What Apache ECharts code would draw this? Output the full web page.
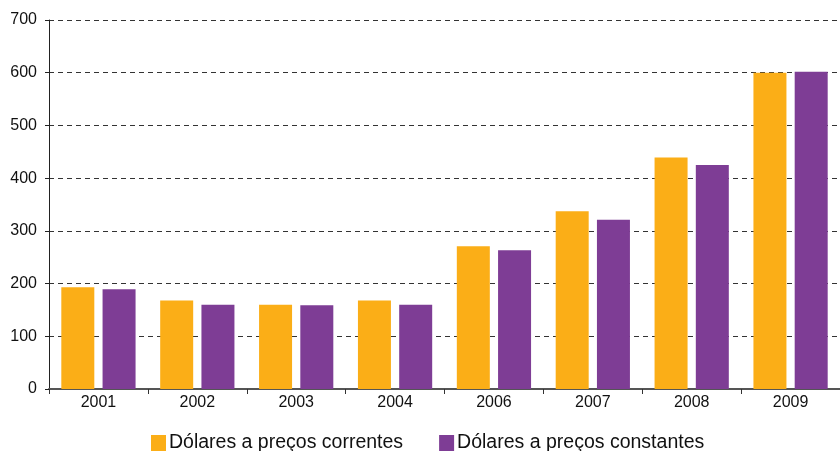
<!DOCTYPE html>
<html>
<head>
<meta charset="UTF-8">
<title>index.html</title>
<style type="text/css">
body { margin: 0; background: #fff; }
#main { width: 840px; height: 451px; }
</style>
</head>
<body>
<div id="main"></div>
<script src="https://cdn.jsdelivr.net/npm/echarts@6/dist/echarts.min.js"></script>
<script>
  var anos = ['2001', '2002', '2003', '2004', '2006', '2007', '2008', '2009'];
  var correntes = [193, 168, 160, 168, 271, 337, 439, 600];
  var constantes = [189, 160, 159, 160, 263, 321, 425, 602];
  var yTicks = [0, 700, 100];

  var myChart = echarts.init(document.getElementById('main'));
  var option = {
    animation: false,
    textStyle: { fontFamily: 'Liberation Sans, Arial, sans-serif' },
    color: ['#FBAE17', '#7E3D95'],
    grid: { left: 49, right: 0, top: 20, bottom: 62 },
    legend: {
      bottom: -7,
      left: 146,
      itemWidth: 15,
      itemHeight: 16,
      itemGap: 36,
      icon: 'rect',
      textStyle: { fontSize: 19.5, color: '#111', padding: [0, 0, 0, -2] },
      data: ['Dólares a preços correntes', 'Dólares a preços constantes']
    },
    xAxis: [{
      type: 'category',
      data: anos,
      axisLine: { lineStyle: { color: '#555', width: 2 } },
      axisTick: { show: true, length: 5, lineStyle: { color: '#333' } },
      axisLabel: { fontSize: 16, color: '#111', margin: 6 }
    }],
    yAxis: [{
      type: 'value',
      min: yTicks[0],
      max: yTicks[1],
      interval: yTicks[2],
      axisLine: { show: true, lineStyle: { color: '#222', width: 1 } },
      axisTick: { show: true, length: 4, lineStyle: { color: '#222' } },
      axisLabel: { fontSize: 16, color: '#111', margin: 12 },
      splitLine: { lineStyle: { type: [5, 4], color: '#333' } }
    }],
    series: [{
      name: 'Dólares a preços correntes',
      type: 'bar',
      barWidth: 33,
      barGap: '25%',
      data: correntes
    }, {
      name: 'Dólares a preços constantes',
      type: 'bar',
      barWidth: 33,
      barGap: '25%',
      data: constantes
    }]
  };
  myChart.setOption(option);
</script>
</body>
</html>
